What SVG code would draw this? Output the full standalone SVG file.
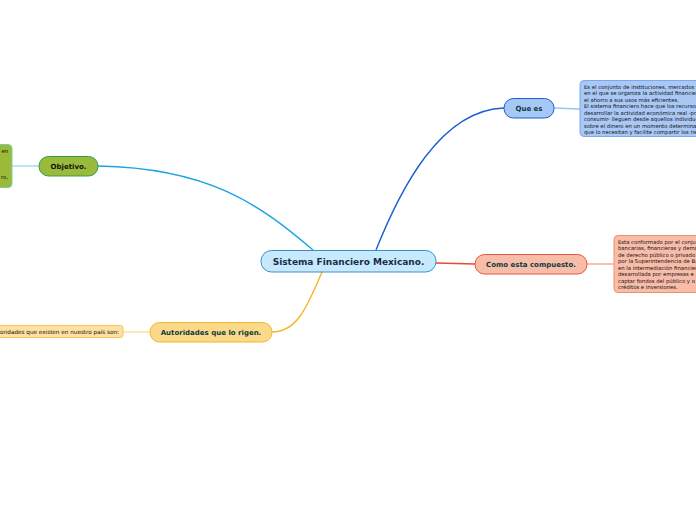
<svg xmlns="http://www.w3.org/2000/svg" width="696" height="520" viewBox="0 0 696 520">
<style>
.t{font-family:"DejaVu Sans",Verdana,sans-serif;font-weight:bold;text-anchor:middle;}
.s{font-family:"DejaVu Sans",Verdana,sans-serif;font-size:5.3px;fill:#111;}
.c{fill:none;stroke-width:1.4;}
</style>
<rect width="696" height="520" fill="#ffffff"/>
<g id="connectors">
<path class="c" d="M376,250 C400,190 440,110 504,108" stroke="#1a5fd0"/>
<path class="c" d="M313,250 C260,205 210,168 98,166" stroke="#1aa4e4"/>
<path class="c" d="M436,263 L475,264" stroke="#ea4a2a"/>
<path class="c" d="M322,272 C306,310 296,332 272,332" stroke="#f5b828"/>
<path class="c" d="M554,108 L580,109" stroke="#9cc4f0" stroke-width="1"/>
<path class="c" d="M587,264 L614,264" stroke="#f5a68e" stroke-width="1"/>
<path class="c" d="M39,166 L12,166" stroke="#9fd8f0" stroke-width="1"/>
<path class="c" d="M150,332 L123,332" stroke="#fde09a" stroke-width="1"/>
</g>
<g id="central">
<rect x="261" y="250.5" width="175" height="21.5" rx="10.5" fill="#c6eafb" stroke="#3a90cc" stroke-width="1"/>
<text class="t" x="348.5" y="264.5" font-size="9" fill="#1b2a4e">Sistema Financiero Mexicano.</text>
</g>
<g id="que-es">
<rect x="504" y="98.5" width="50" height="19.5" rx="9.5" fill="#a6c8f6" stroke="#1a5fd0" stroke-width="1"/>
<text class="t" x="529" y="111" font-size="7" fill="#0d3b3b">Que es</text>
</g>
<g id="que-es-detalle">
<rect x="580" y="80.5" width="130" height="56" rx="4" fill="#a9c8f6" stroke="#7aa8ea" stroke-width="1"/>
<text class="s" x="584" y="88.5">Es el conjunto de instituciones, mercados y medios de un país</text>
<text class="s" x="584" y="95">en el que se organiza la actividad financiera y canaliza</text>
<text class="s" x="584" y="101.5">el ahorro a sus usos más eficientes.</text>
<text class="s" x="584" y="108">El sistema financiero hace que los recursos necesarios para</text>
<text class="s" x="584" y="114.5">desarrollar la actividad económica real -producir y</text>
<text class="s" x="584" y="121">consumir- lleguen desde aquellos individuos con excedentes</text>
<text class="s" x="584" y="127.5">sobre el dinero en un momento determinado hacia aquellos</text>
<text class="s" x="584" y="134">que lo necesitan y facilite compartir los riesgos.</text>
</g>
<g id="como">
<rect x="475" y="254.5" width="112" height="19.5" rx="9.5" fill="#f7bda9" stroke="#e8553a" stroke-width="1"/>
<text class="t" x="531" y="267" font-size="7" fill="#0d3b3b">Como esta compuesto.</text>
</g>
<g id="como-detalle">
<rect x="614" y="235.5" width="100" height="57" rx="4" fill="#f8bca8" stroke="#f0906a" stroke-width="1"/>
<text class="s" x="618" y="243.5">Esta conformado por el conjunto de instituciones</text>
<text class="s" x="618" y="250">bancarias, financieras y demás</text>
<text class="s" x="618" y="256.5">de derecho público o privado</text>
<text class="s" x="618" y="263">por la Superintendencia de Bancos</text>
<text class="s" x="618" y="269.5">en la intermediación financiera</text>
<text class="s" x="618" y="276">desarrollada por empresas e</text>
<text class="s" x="618" y="282.5">captar fondos del público y o</text>
<text class="s" x="618" y="289">créditos e inversiones.</text>
</g>
<g id="objetivo">
<rect x="39" y="156.5" width="59" height="19.5" rx="9.5" fill="#9cba3a" stroke="#2aa04a" stroke-width="1"/>
<text class="t" x="68.5" y="169" font-size="7" fill="#111">Objetivo.</text>
</g>
<g id="objetivo-detalle">
<rect x="-20" y="144.5" width="32" height="43" rx="4" fill="#9cba3a" stroke="#7ccfa0" stroke-width="1"/>
<text class="s" x="8" y="152.5" text-anchor="end">en</text>
<text class="s" x="8" y="178.5" text-anchor="end">ro,</text>
</g>
<g id="autoridades">
<rect x="150" y="322.5" width="122" height="19.5" rx="9.5" fill="#fbd98b" stroke="#f5b828" stroke-width="1"/>
<text class="t" x="211" y="335" font-size="7" fill="#0d3b3b">Autoridades que lo rigen.</text>
</g>
<g id="autoridades-detalle">
<rect x="-10" y="325.5" width="133" height="12" rx="2.5" fill="#fde0a2" stroke="#f5c858" stroke-width="1"/>
<text class="s" x="119" y="333.5" text-anchor="end" style="font-size:5.7px">Autoridades que existen en nuestro país son:</text>
</g>
</svg>
